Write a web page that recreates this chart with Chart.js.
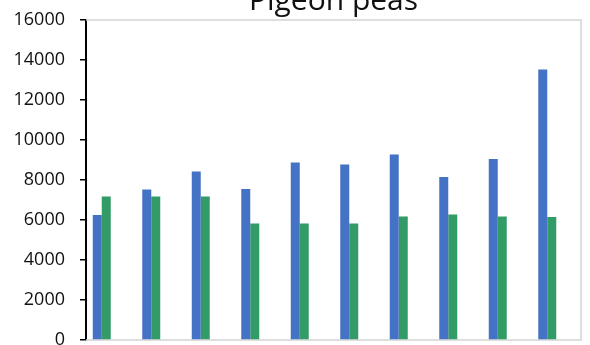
<!DOCTYPE html>
<html lang="en">
<head>
    <meta charset="UTF-8">
    <title>Pigeon peas</title>
    <script src="https://cdn.jsdelivr.net/npm/chart.js@4.3.0/dist/chart.umd.min.js"></script>
    <style>
        body { margin: 0; background: #fff; }
    </style>
</head>
<body>
    <canvas id="chart" width="590" height="345"></canvas>
    <script>

 const categories = ['1', '2', '3', '4', '5', '6', '7', '8', '9', '10'];
 const blueValues = [6250, 7520, 8420, 7550, 8880, 8780, 9280, 8150, 9050, 13530];
 const greenValues = [7170, 7170, 7170, 5830, 5830, 5830, 6170, 6270, 6170, 6150];
 // two more series in the workbook, both empty
 const thirdValues = [null, null, null, null, null, null, null, null, null, null];
 const fourthValues = [null, null, null, null, null, null, null, null, null, null];
 const yTicks = [0, 2000, 4000, 6000, 8000, 10000, 12000, 14000, 16000];

 const titleText = 'Pigeon peas';

// title centred over the plot, plus the light grey plot frame
const plotFrame = {
    id: 'plotFrame',
    beforeDatasetsDraw(chart) {
        const { ctx, chartArea: a } = chart;
        ctx.save();
        ctx.strokeStyle = '#d4d4d4';
        ctx.lineWidth = 1.5;
        ctx.beginPath();
        ctx.moveTo(a.left, a.top);
        ctx.lineTo(a.right, a.top);
        ctx.lineTo(a.right, a.bottom);
        ctx.lineTo(a.left, a.bottom);
        ctx.stroke();
        ctx.restore();
    },
    afterDraw(chart) {
        const { ctx, chartArea: a } = chart;
        ctx.save();
        ctx.font = '30px "Open Sans"';
        ctx.fillStyle = '#111';
        ctx.textAlign = 'center';
        ctx.textBaseline = 'alphabetic';
        ctx.fillText(titleText, (a.left + a.right) / 2, 10);
        ctx.restore();
    }
};

let ctx = document.getElementById('chart').getContext('2d');
let myChart = new Chart(ctx, {
    type: 'bar',
    data: {
        labels: categories,
        datasets: [
            { label: 'Series 1', data: blueValues, backgroundColor: '#4472c4' },
            { label: 'Series 2', data: greenValues, backgroundColor: '#339b65' },
            { label: 'Series 3', data: thirdValues, backgroundColor: '#a5a5a5' },
            { label: 'Series 4', data: fourthValues, backgroundColor: '#ffc000' }
        ]
    },
    options: {
        responsive: false,
        animation: false,
        layout: { padding: { top: 20, right: 9, bottom: 5, left: 0 } },
        datasets: {
            bar: { categoryPercentage: 0.727, barPercentage: 1.0 }
        },
        plugins: {
            legend: { display: false },
            tooltip: { enabled: false },
            title: { display: false }
        },
        scales: {
            x: { display: false },
            y: {
                min: 0,
                max: 16000,
                afterBuildTicks: axis => { axis.ticks = yTicks.map(v => ({ value: v })); },
                afterFit: axis => {
                    axis.width = 86;
                    // labels may hang over the top and bottom of the plot
                    axis.paddingTop = 0;
                    axis.paddingBottom = 0;
                },
                border: { display: true, color: '#000', width: 2 },
                grid: {
                    drawOnChartArea: false,
                    drawTicks: true,
                    tickLength: 6,
                    color: '#000',
                    lineWidth: 1.5
                },
                ticks: {
                    padding: 15,
                    color: '#111',
                    font: { family: '"Open Sans"', size: 18 },
                    callback: value => String(value)
                }
            }
        }
    },
    plugins: [plotFrame]
});

    </script>
</body>
</html>
